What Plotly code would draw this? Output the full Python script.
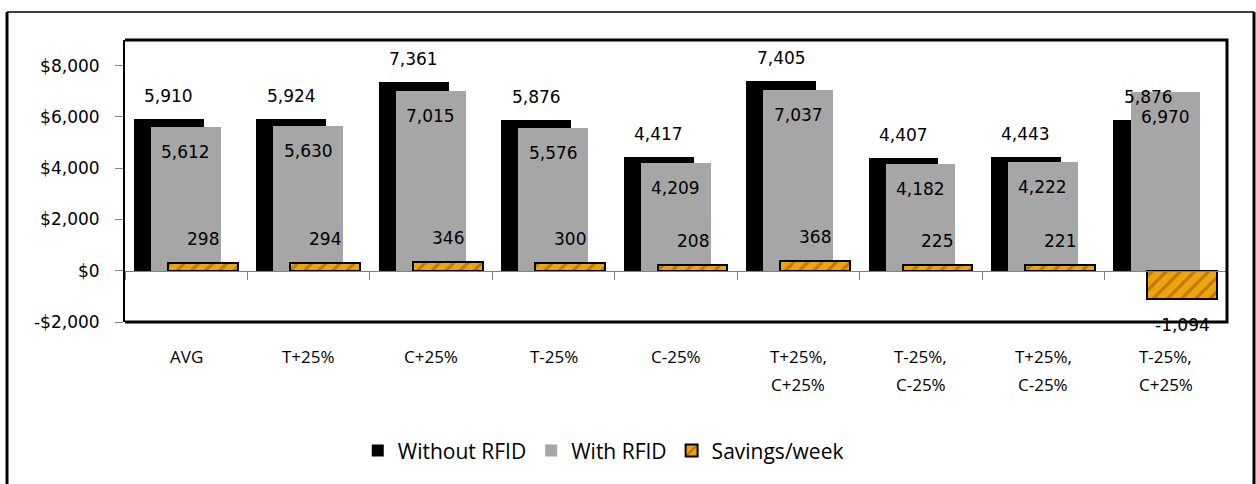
import plotly.graph_objects as go

# ---- data ----
cat_line1 = ["AVG", "T+25%", "C+25%", "T-25%", "C-25%", "T+25%,", "T-25%,", "T+25%,", "T-25%,"]
cat_line2 = ["", "", "", "", "", "C+25%", "C-25%", "C-25%", "C+25%"]
without_rfid = [5910, 5924, 7361, 5876, 4417, 7405, 4407, 4443, 5876]
with_rfid = [5612, 5630, 7015, 5576, 4209, 7037, 4182, 4222, 6970]
savings = [298, 294, 346, 300, 208, 368, 225, 221, -1094]
ytick_vals = [-2000, 0, 2000, 4000, 6000, 8000]
ytick_text = ["-$2,000", "$0", "$2,000", "$4,000", "$6,000", "$8,000"]

# ---- layout constants ----
W, H = 1256, 484
ML, MR, MT, MB = 125, 29, 40, 162
YMIN, YMAX = -2000, 9000
BW = 0.57
OFF_BLACK, OFF_GRAY, OFF_SAV = -0.427, -0.288, -0.15

xs = list(range(len(without_rfid)))
fig = go.Figure()
fig.add_trace(go.Bar(x=xs, y=without_rfid, name="Without RFID", width=BW, offset=OFF_BLACK,
                     marker=dict(color="#000000", line=dict(width=0))))
fig.add_trace(go.Bar(x=xs, y=with_rfid, name="With RFID", width=BW, offset=OFF_GRAY,
                     marker=dict(color="#A6A6A6", line=dict(width=0))))
fig.add_trace(go.Bar(x=xs, y=savings, name="Savings/week", width=BW, offset=OFF_SAV,
                     marker=dict(color="#F2A20C", line=dict(color="#000000", width=2),
                                 pattern=dict(shape="/", fgcolor="#7A5200", bgcolor="#F2A20C",
                                              size=10, solidity=0.3))))

lab_font = dict(family="DejaVu Sans", size=17, color="#000000")
cat_font = dict(family="Open Sans", size=17, color="#000000")
ann = []
for i in xs:
    ann.append(dict(x=i + OFF_BLACK + BW / 2, y=without_rfid[i], text=f"{without_rfid[i]:,}",
                    showarrow=False, yshift=23, yanchor="middle", font=lab_font))
    ann.append(dict(x=i + OFF_GRAY + BW / 2, y=with_rfid[i], text=f"{with_rfid[i]:,}",
                    showarrow=False, yshift=-25, yanchor="middle", font=lab_font))
    s = savings[i]
    ann.append(dict(x=i + OFF_SAV + BW / 2, y=s, text=f"{s:,}",
                    showarrow=False, yshift=24 if s >= 0 else -26, yanchor="middle", font=lab_font))
    ann.append(dict(x=i, xref="x", y=0, yref="paper", text=cat_line1[i], showarrow=False,
                    yshift=-34, yanchor="middle", font=cat_font))
    if cat_line2[i]:
        ann.append(dict(x=i, xref="x", y=0, yref="paper", text=cat_line2[i], showarrow=False,
                        yshift=-62, yanchor="middle", font=cat_font))

pw = W - ML - MR
ph = H - MT - MB
ox0, ox1 = (7 - ML) / pw, (1254 - ML) / pw
oy0, oy1 = -(MB + 20) / ph, (ph + MT - 12) / ph
shapes = [
    # plot frame (top, right, bottom)
    dict(type="path", xref="paper", yref="paper", path="M 0,1 L 1,1 L 1,0 L 0,0",
         line=dict(color="#000000", width=3)),
    # outer chart border: thick sides, thin top
    dict(type="line", xref="paper", yref="paper", x0=ox0, x1=ox0, y0=oy0, y1=oy1,
         line=dict(color="#000000", width=3)),
    dict(type="line", xref="paper", yref="paper", x0=ox1, x1=ox1, y0=oy0, y1=oy1,
         line=dict(color="#000000", width=3)),
    dict(type="line", xref="paper", yref="paper", x0=ox0, x1=ox1, y0=oy1, y1=oy1,
         line=dict(color="#000000", width=1.5)),
]

fig.update_layout(
    width=W, height=H,
    margin=dict(l=ML, r=MR, t=MT, b=MB),
    paper_bgcolor="white", plot_bgcolor="white",
    barmode="overlay", bargap=0,
    showlegend=True,
    legend=dict(orientation="h", x=0.434, xanchor="center", y=-0.457, yanchor="middle",
                font=dict(family="Open Sans", size=21, color="#000000"),
                traceorder="normal", itemsizing="constant", bgcolor="rgba(0,0,0,0)"),
    xaxis=dict(range=[-0.5, len(xs) - 0.5], showticklabels=False, showgrid=False, zeroline=False,
               tickvals=[i - 0.5 for i in range(len(xs) + 1)], ticks="outside", ticklen=8,
               tickcolor="#808080", tickwidth=1,
               showline=True, linecolor="#808080", linewidth=1,
               anchor="free", position=(0 - YMIN) / (YMAX - YMIN)),
    yaxis=dict(range=[YMIN, YMAX], tickvals=ytick_vals, ticktext=ytick_text,
               showgrid=False, zeroline=False, ticks="outside", ticklen=8, tickcolor="#808080",
               showline=True, linecolor="#000000", linewidth=2,
               ticklabelstandoff=12,
               tickfont=dict(family="DejaVu Sans", size=17, color="#000000")),
    annotations=ann, shapes=shapes,
)

fig.write_html("out.html")
